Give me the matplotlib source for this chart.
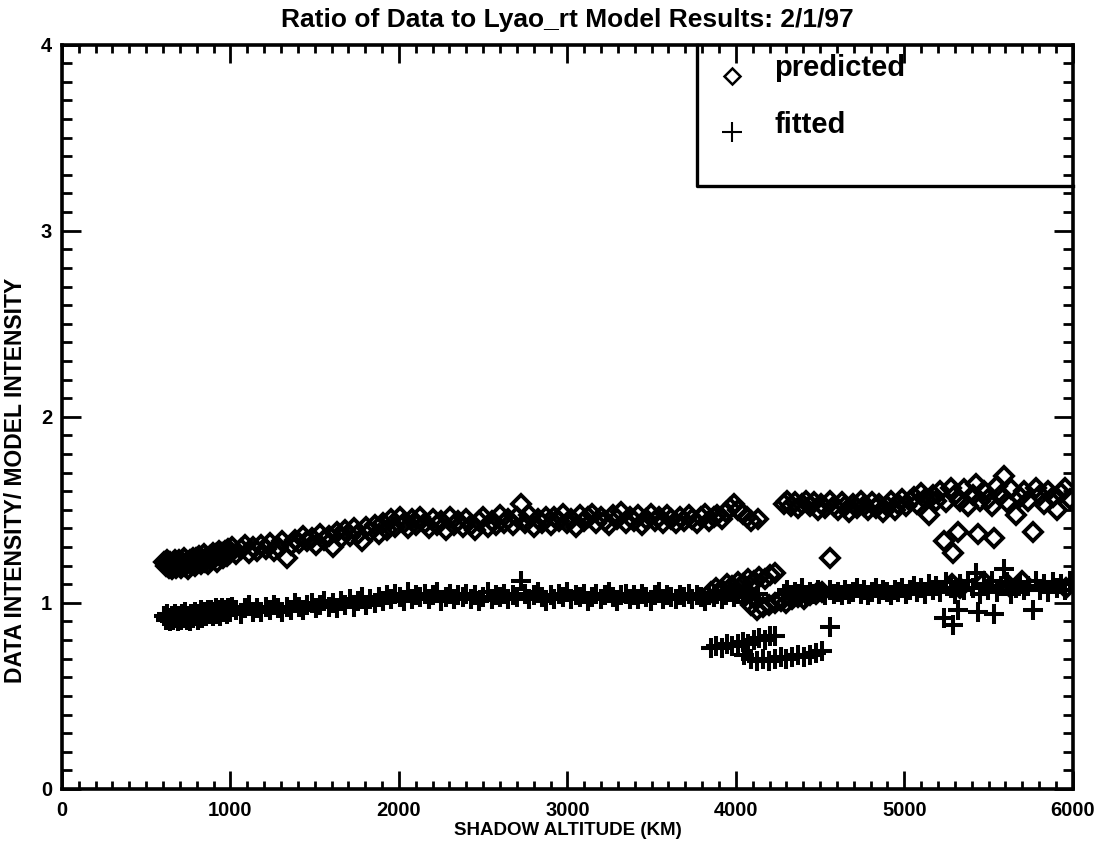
import matplotlib.pyplot as plt
from matplotlib.ticker import MultipleLocator

# fuentes
plt.rcParams['font.family'] = ['Liberation Sans', 'DejaVu Sans']
plt.rcParams['font.weight'] = 'bold'

# Datos: altitud de sombra (km) y cocientes
alt_main = [605, 615, 622, 634, 641, 652, 660, 671, 679, 688,
            697, 706, 714, 725, 733, 742, 751, 760, 768, 779,
            787, 796, 805, 813, 824, 832, 841, 850, 858, 869,
            877, 886, 895, 904, 913, 922, 930, 941, 950, 958,
            969, 978, 988, 997, 1010, 1034, 1061, 1085, 1108, 1135,
            1158, 1184, 1209, 1233, 1260, 1283, 1307, 1334, 1358, 1382,
            1409, 1432, 1457, 1484, 1508, 1531, 1557, 1583, 1606, 1632,
            1657, 1680, 1707, 1731, 1756, 1782, 1805, 1830, 1857, 1880,
            1905, 1931, 1954, 1979, 2006, 2029, 2054, 2080, 2104, 2128,
            2155, 2178, 2203, 2229, 2252, 2278, 2304, 2327, 2352, 2378,
            2401, 2426, 2453, 2476, 2501, 2527, 2550, 2575, 2602, 2625,
            2650, 2676, 2699, 2724, 2751, 2774, 2799, 2825, 2848, 2873,
            2900, 2923, 2948, 2974, 2997, 3022, 3049, 3072, 3097, 3123,
            3146, 3171, 3198, 3221, 3246, 3272, 3295, 3320, 3347, 3370,
            3395, 3421, 3444, 3469, 3496, 3519, 3544, 3570, 3593, 3618,
            3645, 3668, 3693, 3719, 3742, 3767, 3794, 3817, 3842, 3868,
            3891, 3916, 3943, 3966, 3990, 4015, 4040, 4066, 4090, 4134]

pred_main = [1.22, 1.20, 1.23, 1.19, 1.22, 1.18, 1.21, 1.23, 1.19, 1.21,
             1.23, 1.19, 1.22, 1.24, 1.20, 1.22, 1.18, 1.23, 1.21, 1.24,
             1.20, 1.24, 1.22, 1.25, 1.21, 1.23, 1.26, 1.22, 1.24, 1.21,
             1.25, 1.23, 1.27, 1.24, 1.26, 1.22, 1.28, 1.25, 1.27, 1.24,
             1.28, 1.25, 1.29, 1.27, 1.30, 1.26, 1.29, 1.31, 1.27, 1.30,
             1.28, 1.31, 1.29, 1.32, 1.28, 1.30, 1.33, 1.24, 1.31, 1.34,
             1.32, 1.36, 1.33, 1.35, 1.31, 1.37, 1.34, 1.36, 1.30, 1.38,
             1.35, 1.39, 1.36, 1.40, 1.37, 1.33, 1.41, 1.38, 1.42, 1.37,
             1.43, 1.39, 1.45, 1.41, 1.46, 1.43, 1.40, 1.45, 1.42, 1.46,
             1.43, 1.40, 1.45, 1.42, 1.44, 1.39, 1.46, 1.42, 1.44, 1.41,
             1.45, 1.42, 1.39, 1.44, 1.46, 1.41, 1.44, 1.42, 1.47, 1.43,
             1.45, 1.42, 1.46, 1.53, 1.43, 1.47, 1.41, 1.45, 1.43, 1.46,
             1.42, 1.46, 1.44, 1.48, 1.43, 1.45, 1.41, 1.47, 1.44, 1.46,
             1.48, 1.43, 1.46, 1.44, 1.42, 1.47, 1.45, 1.49, 1.43, 1.46,
             1.44, 1.47, 1.42, 1.45, 1.48, 1.44, 1.46, 1.43, 1.47, 1.45,
             1.43, 1.46, 1.44, 1.47, 1.45, 1.43, 1.46, 1.48, 1.44, 1.46,
             1.47, 1.45, 1.49, 1.51, 1.53, 1.50, 1.48, 1.46, 1.44, 1.45]

fit_main = [0.93, 0.91, 0.94, 0.92, 0.90, 0.93, 0.91, 0.94, 0.92, 0.90,
            0.93, 0.91, 0.94, 0.92, 0.95, 0.91, 0.93, 0.90, 0.94, 0.92,
            0.95, 0.93, 0.91, 0.94, 0.96, 0.92, 0.94, 0.95, 0.93, 0.96,
            0.94, 0.96, 0.93, 0.95, 0.97, 0.94, 0.96, 0.93, 0.97, 0.95,
            0.96, 0.94, 0.97, 0.95, 0.98, 0.96, 0.94, 0.97, 0.99, 0.95,
            0.97, 0.95, 0.98, 0.96, 0.99, 0.97, 0.95, 0.98, 0.96, 1.00,
            0.98, 0.96, 0.99, 1.00, 0.97, 0.99, 1.01, 0.98, 1.00, 0.97,
            1.01, 0.99, 1.02, 0.98, 1.01, 1.03, 0.99, 1.02, 1.00, 1.03,
            1.01, 1.04, 1.02, 1.05, 1.03, 1.01, 1.06, 1.02, 1.04, 1.03,
            1.05, 1.02, 1.04, 1.06, 1.01, 1.03, 1.05, 1.02, 1.04, 1.03,
            1.05, 1.02, 1.04, 1.01, 1.03, 1.06, 1.02, 1.04, 1.03, 1.05,
            1.02, 1.04, 1.03, 1.12, 1.05, 1.02, 1.04, 1.06, 1.03, 1.01,
            1.04, 1.02, 1.05, 1.03, 1.06, 1.02, 1.04, 1.03, 1.05, 1.01,
            1.03, 1.05, 1.02, 1.04, 1.06, 1.03, 1.01, 1.04, 1.05, 1.02,
            1.04, 1.02, 1.05, 1.03, 1.01, 1.04, 1.06, 1.02, 1.04, 1.03,
            1.02, 1.04, 1.03, 1.05, 1.02, 1.04, 1.03, 1.01, 1.04, 1.03,
            1.05, 1.02, 1.04, 1.06, 1.03, 1.05, 1.04, 1.06, 1.03, 1.05]

# tramo bajo A
alt_a = [3855, 3885, 3915, 3950, 3980, 4010, 4045, 4075, 4110, 4140, 4170, 4200, 4230]
pred_a = [1.06, 1.08, 1.07, 1.10, 1.09, 1.11, 1.10, 1.13, 1.12, 1.14, 1.13, 1.15, 1.16]
fit_a = [0.76, 0.77, 0.76, 0.78, 0.77, 0.78, 0.79, 0.78, 0.80, 0.81, 0.80, 0.82, 0.82]

# tramo bajo B
alt_b = [4050, 4090, 4125, 4160, 4195, 4230, 4265, 4300, 4335, 4370, 4405, 4440, 4475, 4510]
pred_b = [1.03, 0.99, 0.96, 0.98, 0.99, 1.00, 1.01, 1.00, 1.02, 1.03, 1.02, 1.04, 1.05, 1.06]
fit_b = [0.72, 0.70, 0.69, 0.70, 0.69, 0.70, 0.71, 0.70, 0.71, 0.72, 0.71, 0.72, 0.73, 0.74]

# tramo derecho
alt_r = [4285, 4305, 4330, 4352, 4371, 4395, 4418, 4440, 4462, 4485,
         4508, 4530, 4560, 4585, 4605, 4628, 4650, 4672, 4695, 4718,
         4740, 4762, 4785, 4808, 4830, 4852, 4875, 4898, 4920, 4942,
         4965, 4988, 5010, 5032, 5055, 5078, 5100, 5122, 5145, 5168,
         5190, 5212, 5250, 5275, 5300, 5330, 5355, 5380, 5405, 5450,
         5470, 5495, 5520, 5550, 5575, 5610, 5635, 5660, 5685, 5710,
         5735, 5780, 5805, 5830, 5855, 5880, 5905, 5930, 5955, 5985]

pred_r = [1.53, 1.55, 1.52, 1.54, 1.51, 1.53, 1.55, 1.52, 1.54, 1.50,
          1.53, 1.51, 1.55, 1.52, 1.50, 1.54, 1.52, 1.49, 1.53, 1.51,
          1.55, 1.52, 1.50, 1.54, 1.51, 1.53, 1.49, 1.52, 1.55, 1.50,
          1.53, 1.56, 1.52, 1.55, 1.57, 1.53, 1.59, 1.56, 1.47, 1.58,
          1.55, 1.60, 1.54, 1.62, 1.58, 1.55, 1.61, 1.52, 1.58, 1.55,
          1.60, 1.56, 1.52, 1.63, 1.58, 1.54, 1.61, 1.47, 1.57, 1.60,
          1.55, 1.62, 1.58, 1.53, 1.60, 1.57, 1.50, 1.59, 1.62, 1.56]

fit_r = [1.05, 1.07, 1.04, 1.06, 1.05, 1.08, 1.04, 1.06, 1.05, 1.07,
         1.06, 1.04, 1.07, 1.05, 1.06, 1.04, 1.07, 1.05, 1.06, 1.08,
         1.05, 1.07, 1.04, 1.06, 1.08, 1.05, 1.07, 1.06, 1.04, 1.07,
         1.06, 1.08, 1.05, 1.07, 1.09, 1.06, 1.08, 1.05, 1.10, 1.07,
         1.09, 1.06, 1.11, 1.08, 1.05, 1.10, 1.07, 1.12, 1.08, 1.05,
         1.10, 1.07, 1.12, 1.06, 1.09, 1.11, 1.05, 1.08, 1.10, 1.07,
         1.09, 1.12, 1.07, 1.10, 1.06, 1.11, 1.08, 1.10, 1.07, 1.12]

# puntos sueltos
alt_o = [4560, 5237, 5290, 5320, 5438, 5533, 5763, 5426, 5592]
pred_o = [1.24, 1.33, 1.27, 1.38, 1.37, 1.35, 1.38, 1.64, 1.68]
fit_o = [0.87, 0.92, 0.88, 0.96, 0.95, 0.94, 0.96, 1.16, 1.18]

alt_px = [5280, 5330, 5470, 5620, 5700, 5960]
pred_px = [1.10, 1.08, 1.11, 1.09, 1.12, 1.08]

fig = plt.figure(figsize=(11.06, 8.42), dpi=100)
ax = fig.add_axes([0.056, 0.063, 0.914, 0.884])

dia = dict(linestyle='none', marker='D', markersize=9.5, mfc='none', mec='black', mew=2.8)
cruz = dict(linestyle='none', marker='+', markersize=14, color='black', mew=2.9)

for xs, ys in [(alt_main, pred_main), (alt_a, pred_a), (alt_b, pred_b),
               (alt_r, pred_r), (alt_o, pred_o), (alt_px, pred_px)]:
    ax.plot(xs, ys, **dia)
for xs, ys in [(alt_main, fit_main), (alt_a, fit_a), (alt_b, fit_b),
               (alt_r, fit_r), (alt_o, fit_o)]:
    ax.plot(xs, ys, **cruz)

ax.set_xlim(0, 6000)
ax.set_ylim(0, 4)
ax.xaxis.set_major_locator(MultipleLocator(1000))
ax.xaxis.set_minor_locator(MultipleLocator(100))
ax.yaxis.set_major_locator(MultipleLocator(1))
ax.yaxis.set_minor_locator(MultipleLocator(0.1))
ax.tick_params(which='both', direction='in', top=True, right=True, width=2.0, colors='black')
ax.tick_params(axis='x', which='major', length=13, labelsize=14.5, pad=9)
ax.tick_params(axis='x', which='minor', length=5.5)
ax.tick_params(axis='y', which='major', length=14, labelsize=14.5, pad=7)
ax.tick_params(axis='y', which='minor', length=7)
for s in ax.spines.values():
    s.set_linewidth(2.6)

ax.set_title('Ratio of Data to Lyao_rt Model Results: 2/1/97', fontsize=19, fontweight='bold', pad=13)
ax.set_xlabel('SHADOW ALTITUDE (KM)', fontsize=13.5, fontweight='bold', labelpad=1)
ax.set_ylabel('DATA INTENSITY/ MODEL INTENSITY', fontsize=16.5, fontweight='bold')
ax.yaxis.set_label_coords(-0.035, 0.415)

# leyenda dibujada a mano
ax.plot([0.628, 0.628, 1.0], [1.0, 0.81, 0.81], transform=ax.transAxes, color='black', lw=2.4, clip_on=False)
ax.plot([0.663], [0.958], transform=ax.transAxes, linestyle='none', marker='D', markersize=8.5,
        mfc='none', mec='black', mew=1.8)
ax.plot([0.663], [0.882], transform=ax.transAxes, linestyle='none', marker='+', markersize=15,
        color='black', mew=1.5)
ax.text(0.705, 0.968, 'predicted', transform=ax.transAxes, fontsize=21, fontweight='bold', va='center')
ax.text(0.705, 0.892, 'fitted', transform=ax.transAxes, fontsize=21, fontweight='bold', va='center')

fig.savefig('out.png', dpi=100)
